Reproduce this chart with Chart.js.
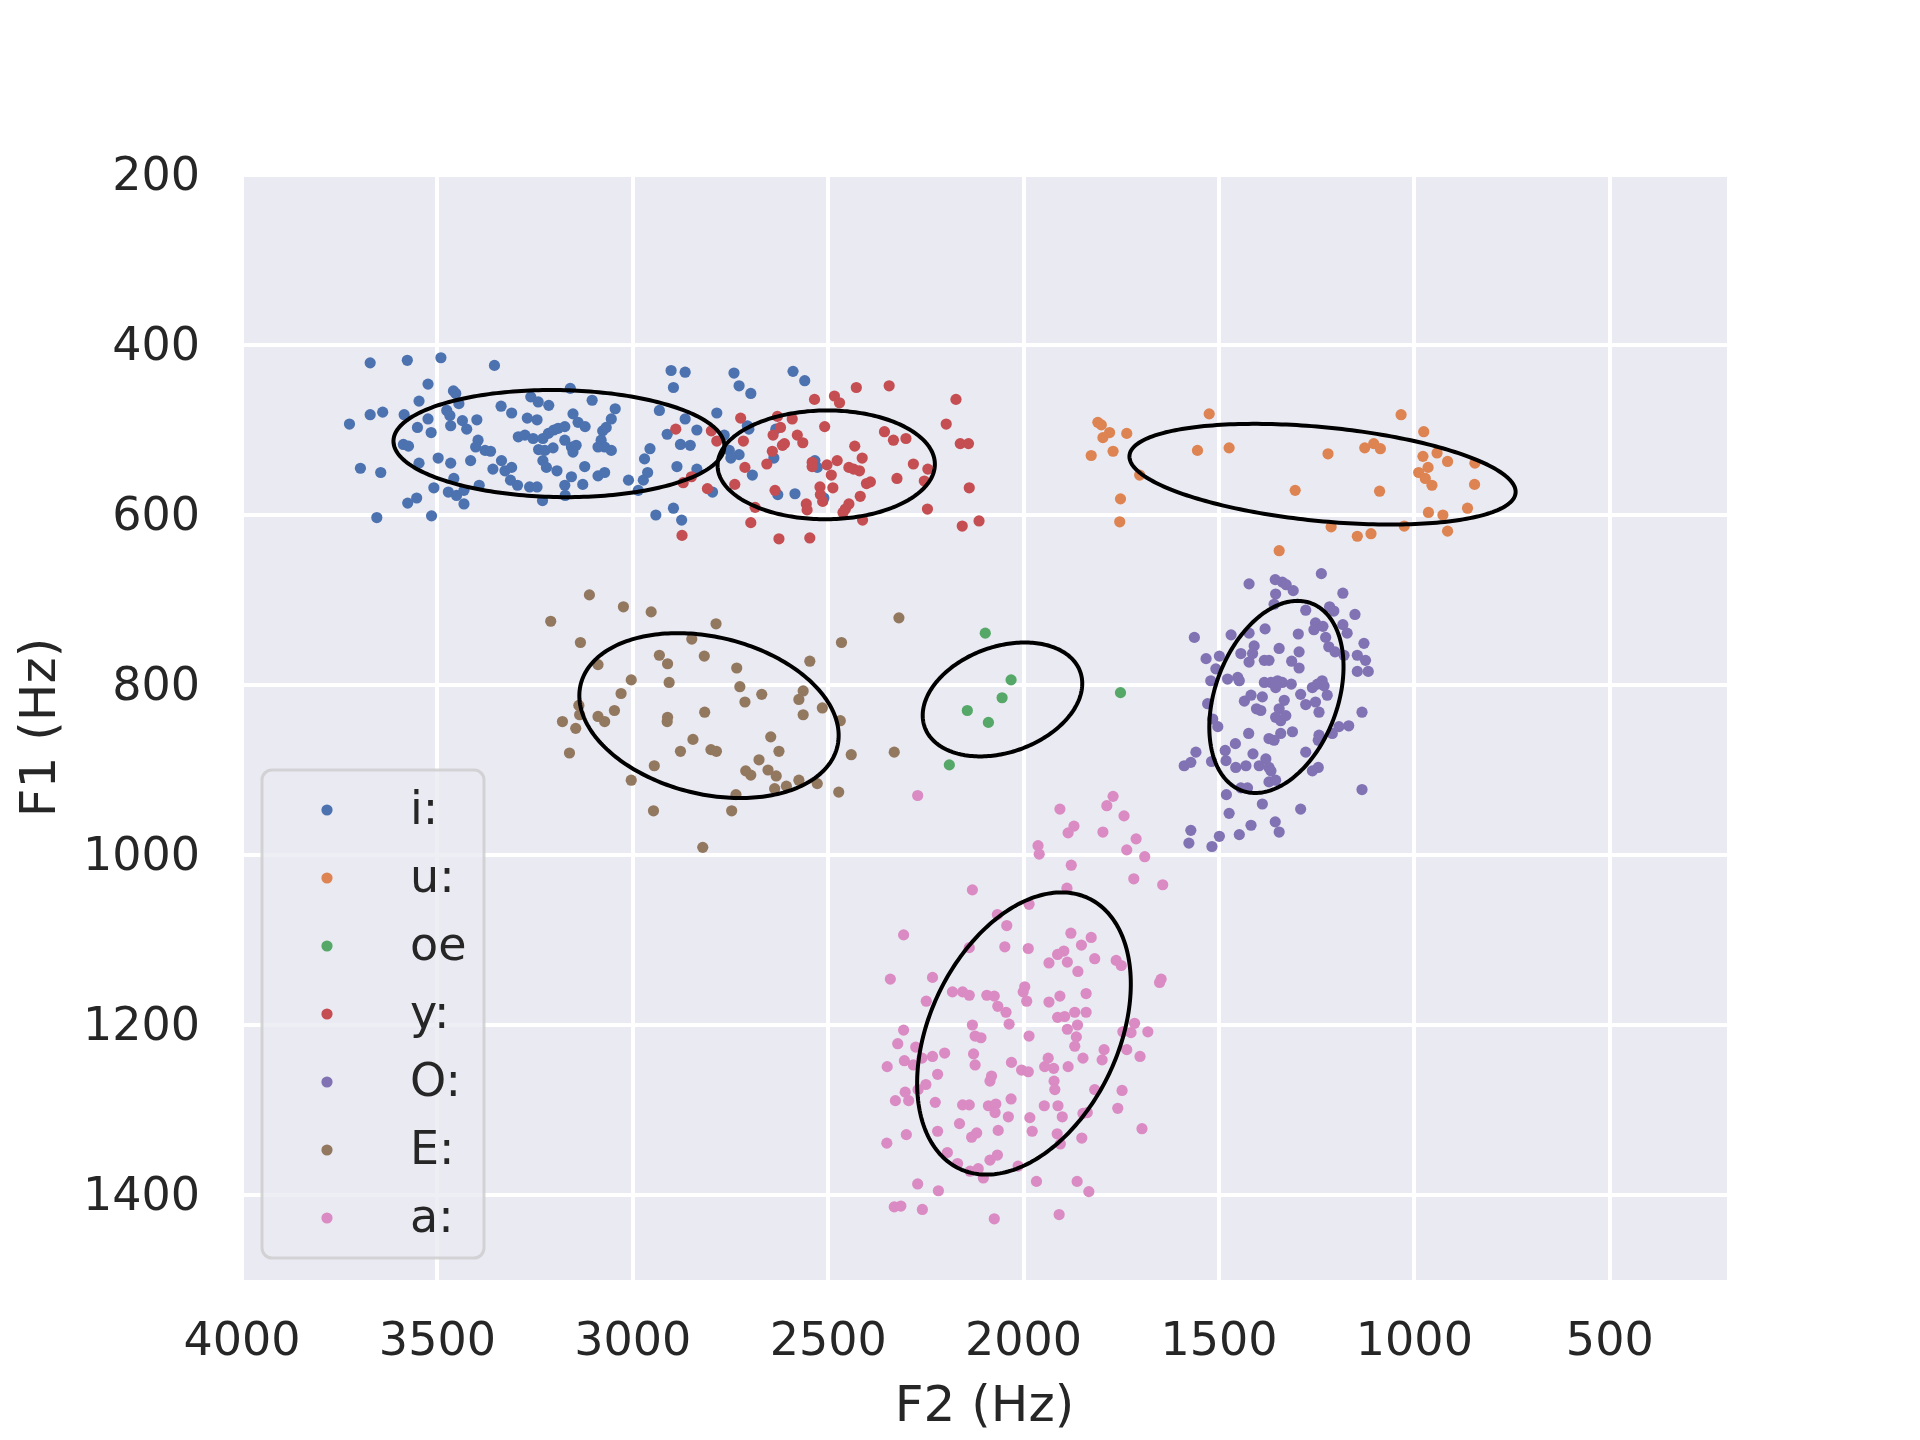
<!DOCTYPE html>
<html>
<head>
<meta charset="utf-8">
<script src="https://cdn.jsdelivr.net/npm/chart.js@4.4.1/dist/chart.umd.min.js"></script>
<style>
    html, body { margin: 0; padding: 0; background: #fff; }
    #vowelChart { display: block; }
</style>
</head>
<body>
<canvas id="vowelChart" width="1920" height="1440"></canvas>
<script>
'use strict';

// labels and colours, same order as the legend
const vowelLabels = ['i:', 'u:', 'oe', 'y:', 'O:', 'E:', 'a:'];
const vowelColors = ['#4c72b0', '#dd8452', '#55a868', '#c44e52', '#8172b3', '#937860', '#da8bc3'];

const xTicks = [4000, 3500, 3000, 2500, 2000, 1500, 1000, 500];
const yTicks = [200, 400, 600, 800, 1000, 1200, 1400];

// [F2, F1] in Hz
const vowelI = [
    [3672,421],[3577,418],[3491,415],[3354,424],[3524,446],[3160,451],
    [3725,493],[3672,482],[3640,479],[3585,482],[3547,466],[3459,454],[3453,457],[3697,545],[3645,550],
    [3655,603],[3515,601],[3576,586],[3553,580],[3509,568],
    [3524,487],[3516,503],[3551,497],[3587,517],[3574,519],[3547,539],[3498,533],[3466,539],[3476,477],
    [3468,483],[3445,469],[3466,495],[3436,489],[3425,499],[3399,488],[3415,536],[3396,512],[3402,520],
    [3378,524],[3364,525],[3458,557],[3472,573],[3451,577],[3432,571],[3432,587],[3393,565],
    [3337,472],[3310,480],[3261,461],[3242,467],[3215,471],[3270,486],[3245,488],[3293,508],[3276,506],
    [3255,510],[3230,510],[3216,504],[3202,500],[3191,498],[3174,496],[3225,524],[3204,521],[3241,523],
    [3174,512],[3153,481],[3140,491],[3122,496],[3157,520],[3145,518],[3153,526],[3358,546],[3336,536],
    [3327,548],[3310,544],[3230,536],[3221,544],[3194,548],[3313,559],[3295,565],[3264,567],[3245,567],
    [3174,565],[3157,555],[3123,543],[3128,564],[3089,554],[3072,550],[3173,577],[3231,583],[3104,465],
    [3045,475],[3055,487],[3077,501],[3068,497],[3081,512],[3072,520],[3089,520],[3055,524],
    [3011,559],[2986,571],[2973,559],[2962,550],[2970,534],[2956,522],[2932,477],[2941,600],
    [2902,430],[2866,432],[2741,433],[2728,448],[2698,457],[2896,450],[2590,431],[2560,442],
    [2785,480],[2866,487],[2912,505],[2836,500],[2878,517],[2853,518],[2766,506],[2707,495],[2703,499],
    [2753,524],[2728,529],[2749,533],[2887,543],[2836,546],[2694,553],[2639,533],[2634,499],[2534,536],
    [2528,544],[2796,573],[2629,576],[2585,575],[2511,580],[2896,592],[2875,606]
];

const vowelU = [
    [1810,491],[1801,494],[1780,503],[1797,509],[1736,504],[1827,530],[1771,525],[1703,553],[1752,581],
    [1754,608],[1525,481],[1555,524],[1474,521],[1221,528],[1305,571],[1127,521],[1104,516],[1087,522],
    [1089,572],[1034,482],[976,502],[978,531],[942,527],[915,537],[845,539],[965,544],[989,550],
    [972,557],[955,565],[846,564],[964,597],[927,600],[864,592],[1213,614],[1146,625],[1111,622],
    [1026,613],[915,619],[1346,642]
];

const vowelOE = [
    [2098,739],[2032,794],[2055,815],[2144,830],[2090,844],[2190,894],[1752,809]
];

const vowelY = [
    [2428,450],[2344,448],[2535,464],[2484,460],[2471,468],[2173,464],[2198,493],[2890,499],[2799,501],
    [2785,513],[2724,486],[2630,484],[2592,487],[2509,496],[2622,497],[2641,506],[2579,506],[2565,515],
    [2617,518],[2612,516],[2643,525],[2717,513],[2657,540],[2713,544],[2739,564],[2809,569],[2871,562],
    [2850,555],[2636,571],[2541,538],[2541,543],[2503,541],[2477,536],[2492,553],[2488,568],[2521,567],
    [2520,576],[2514,584],[2556,587],[2554,594],[2432,519],[2413,533],[2447,544],[2435,546],[2420,548],
    [2402,563],[2392,561],[2418,578],[2447,587],[2456,593],[2462,597],[2356,502],[2333,512],[2301,510],
    [2282,540],[2245,546],[2254,560],[2324,557],[2162,516],[2141,516],[2139,568],[2246,593],[2157,613],
    [2114,607],[2412,606],[2687,591],[2698,609],[2874,624],[2626,628],[2547,627]
];

const vowelO = [
    [1238,669],[1423,681],[1356,676],[1338,679],[1328,682],[1310,689],[1355,693],[1359,705],[1183,692],
    [1278,712],[1217,708],[1206,713],[1152,717],[1253,727],[1234,731],[1183,729],[1172,739],[1257,735],
    [1227,744],[1219,755],[1203,761],[1180,765],[1129,751],[1146,765],[1125,771],[1146,784],[1118,784],
    [1297,740],[1382,734],[1346,757],[1295,761],[1314,772],[1295,780],[1563,744],[1469,741],[1423,739],
    [1410,754],[1414,763],[1444,763],[1423,773],[1384,771],[1372,771],[1533,769],[1499,766],[1508,781],
    [1478,793],[1452,791],[1448,795],[1521,795],[1384,797],[1367,797],[1350,795],[1338,797],[1315,799],
    [1355,803],[1291,811],[1278,823],[1261,803],[1248,799],[1236,795],[1231,801],[1223,812],[1253,820],
    [1244,832],[1435,819],[1418,812],[1389,814],[1404,828],[1393,830],[1346,828],[1333,818],[1355,838],
    [1342,842],[1329,836],[1529,822],[1516,840],[1503,849],[1134,832],[1168,848],[1193,849],[1210,857],
    [1244,859],[1246,865],[1312,855],[1342,857],[1372,863],[1359,865],[1424,857],[1458,869],[1484,877],
    [1482,889],[1559,879],[1589,895],[1572,891],[1519,890],[1413,881],[1397,895],[1380,887],[1372,897],
    [1367,901],[1431,895],[1457,897],[1278,879],[1261,901],[1246,897],[1372,914],[1355,912],[1444,921],
    [1427,921],[1481,929],[1389,940],[1474,951],[1291,946],[1134,923],[1418,965],[1356,961],[1346,973],
    [1572,971],[1577,986],[1499,978],[1518,990],[1448,976]
];

const vowelE = [
    [3111,694],[3024,708],[2953,714],[3210,725],[3134,750],[2787,728],[2849,746],[2932,765],[2911,775],
    [2817,766],[3089,776],[3004,794],[2907,797],[3030,810],[2734,780],[2726,802],[2713,820],[2670,811],
    [2547,772],[2466,750],[2564,807],[2575,817],[2515,827],[2564,835],[2469,842],[3138,824],[3136,835],
    [3180,843],[3146,851],[3089,837],[3072,843],[3047,830],[2911,838],[2912,843],[2816,832],[2846,864],
    [2878,878],[2800,876],[2786,878],[2647,861],[2626,878],[2677,888],[2711,901],[2698,906],[2654,900],
    [2633,907],[2637,922],[2607,919],[2575,912],[2528,916],[2441,882],[2473,926],[2736,929],[2747,948],
    [3162,880],[2945,895],[3004,912],[2947,948],[2821,991],[2319,721],[2331,879]
];

const vowelA = [
    [2271,930],[1907,946],[1771,931],[1787,942],[1743,954],[1871,966],[1886,974],[1797,973],[1963,989],
    [1960,999],[1712,981],[1736,994],[1690,1002],[1878,1012],[1718,1028],[1644,1035],[2131,1041],
    [1889,1039],[1986,1058],[2067,1070],[2043,1083],[2307,1094],[1879,1092],[1827,1097],[1852,1106],
    [2139,1109],[2048,1108],[1988,1110],[1897,1113],[1913,1117],[1935,1127],[1888,1126],[1818,1122],
    [1861,1137],[1763,1124],[1750,1130],[2341,1146],[2233,1144],[1648,1146],[1652,1150],[2249,1172],
    [2182,1161],[2156,1161],[2139,1165],[2094,1165],[2075,1166],[2066,1178],[2045,1185],[2037,1199],
    [1997,1155],[2001,1161],[1992,1172],[1935,1173],[1907,1166],[1840,1163],[1913,1191],[1895,1190],
    [1869,1185],[1840,1185],[1862,1200],[1888,1205],[1865,1214],[1869,1225],[2131,1200],[2124,1213],
    [2109,1215],[1986,1213],[2307,1206],[2322,1222],[2276,1226],[2260,1239],[2233,1237],[2202,1233],
    [2349,1249],[2305,1242],[2282,1247],[2128,1234],[2124,1247],[2031,1244],[2005,1253],[1988,1255],
    [1946,1249],[1937,1239],[1923,1251],[1886,1249],[1848,1239],[1794,1229],[1799,1241],[1746,1208],
    [1725,1209],[1716,1198],[1682,1208],[1736,1229],[1702,1237],[2220,1258],[2250,1270],[2082,1260],
    [2086,1266],[1922,1266],[1920,1276],[1818,1276],[1748,1277],[2303,1279],[2294,1289],[2328,1289],
    [2270,1276],[2226,1291],[2156,1294],[2139,1294],[2090,1295],[2071,1293],[2073,1303],[2032,1287],
    [1947,1295],[1912,1295],[1901,1308],[1984,1309],[2039,1308],[1759,1298],[1848,1304],[1837,1303],
    [2164,1316],[2220,1325],[2300,1329],[2350,1339],[2133,1332],[2120,1327],[2065,1324],[1978,1325],
    [1914,1328],[1906,1340],[1851,1333],[1697,1322],[2195,1350],[2169,1363],[2086,1359],[2067,1353],
    [2137,1372],[2116,1369],[2103,1380],[2014,1366],[1967,1384],[1863,1384],[1833,1396],[2271,1387],
    [2218,1395],[2331,1414],[2314,1413],[2259,1417],[2075,1428],[1909,1423]
];

const vowelPoints = [vowelI, vowelU, vowelOE, vowelY, vowelO, vowelE, vowelA];

// confidence ellipses: centre and two conjugate half-axes, in Hz
const ellipseCenters = [[3189,516], [1235,552], [2054,817], [2505,541], [1353,814], [2805,836], [1999,1210]];
const ellipseAxisU = [[19,-63], [-494,22], [-57,-67], [-3,-64], [-54,-113], [80,-97], [-96,-166]];
const ellipseAxisV = [[-423,0], [11,55], [-196,0], [-278,0], [-163,0], [-322,0], [-256,0]];


const textColor = '#262626';
const fontFamily = "'DejaVu Sans', sans-serif";

Chart.defaults.font.family = fontFamily;
Chart.defaults.color = textColor;

const plotBackground = {
    id: 'plotBackground',
    beforeDraw(chart) {
        const {ctx, chartArea: a} = chart;
        ctx.save();
        ctx.fillStyle = '#eaeaf2';
        ctx.fillRect(a.left, a.top, a.right - a.left, a.bottom - a.top);
        ctx.restore();
    }
};

const ellipseLayer = {
    id: 'ellipseLayer',
    afterDatasetsDraw(chart) {
        const {ctx, scales: {x, y}} = chart;
        ctx.save();
        ctx.strokeStyle = '#000';
        ctx.lineWidth = 4;
        ellipseCenters.forEach((c, i) => {
            const u = ellipseAxisU[i];
            const v = ellipseAxisV[i];
            ctx.beginPath();
            for (let k = 0; k <= 240; k++) {
                const t = k / 240 * Math.PI * 2;
                const px = x.getPixelForValue(c[0] + u[0] * Math.cos(t) + v[0] * Math.sin(t));
                const py = y.getPixelForValue(c[1] + u[1] * Math.cos(t) + v[1] * Math.sin(t));
                if (k === 0) ctx.moveTo(px, py); else ctx.lineTo(px, py);
            }
            ctx.closePath();
            ctx.stroke();
        });
        ctx.restore();
    }
};

// legend box inside the plot, lower left
const boxLegend = {
    id: 'boxLegend',
    afterDraw(chart) {
        const ctx = chart.ctx;
        const left = 262, top = 770, w = 222, h = 488, r = 10;
        ctx.save();
        ctx.beginPath();
        ctx.roundRect(left, top, w, h, r);
        ctx.fillStyle = 'rgba(234,234,242,0.8)';
        ctx.fill();
        ctx.lineWidth = 3;
        ctx.strokeStyle = 'rgba(204,204,204,0.8)';
        ctx.stroke();
        ctx.font = '46px ' + fontFamily;
        ctx.textBaseline = 'middle';
        ctx.textAlign = 'left';
        chart.data.datasets.forEach((ds, i) => {
            const rowY = 810 + i * 68;
            ctx.beginPath();
            ctx.arc(327, rowY, 5.6, 0, Math.PI * 2);
            ctx.fillStyle = ds.backgroundColor;
            ctx.fill();
            ctx.fillStyle = textColor;
            ctx.fillText(ds.label, 410, rowY + 2);
        });
        ctx.restore();
    }
};

const datasets = vowelLabels.map((label, i) => ({
    label: label,
    data: vowelPoints[i].map(p => ({x: p[0], y: p[1]})),
    backgroundColor: vowelColors[i],
    borderWidth: 0,
    pointRadius: 5.6,
    pointHoverRadius: 5.6,
    order: vowelLabels.length - i
}));

const ctx = document.getElementById('vowelChart').getContext('2d');
const chart = new Chart(ctx, {
    type: 'scatter',
    data: {datasets: datasets},
    options: {
        responsive: false,
        animation: false,
        devicePixelRatio: 1,
        layout: {padding: {top: 175, right: 193, bottom: 0, left: 0}},
        plugins: {
            legend: {display: false},
            tooltip: {enabled: false}
        },
        scales: {
            x: {
                type: 'linear',
                reverse: true,
                min: 200,
                max: 4000,
                afterBuildTicks: s => { s.ticks = xTicks.map(v => ({value: v})); },
                afterFit: s => { s.height = 160; },
                grid: {color: '#ffffff', lineWidth: 4, drawTicks: false},
                border: {display: false},
                ticks: {
                    padding: 35,
                    font: {size: 46},
                    color: textColor,
                    maxRotation: 0,
                    callback: v => String(v)
                },
                title: {
                    display: true,
                    text: 'F2 (Hz)',
                    font: {size: 50},
                    color: textColor,
                    padding: {top: 0, bottom: 2}
                }
            },
            y: {
                type: 'linear',
                reverse: true,
                min: 200,
                max: 1500,
                afterBuildTicks: s => { s.ticks = yTicks.map(v => ({value: v})); },
                afterFit: s => { s.width = 242; },
                grid: {color: '#ffffff', lineWidth: 4, drawTicks: false},
                border: {display: false},
                ticks: {
                    padding: 42,
                    labelOffset: 3,
                    font: {size: 46},
                    color: textColor,
                    callback: v => String(v)
                },
                title: {
                    display: true,
                    text: 'F1 (Hz)',
                    font: {size: 50},
                    color: textColor,
                    padding: {top: 12, bottom: 0}
                }
            }
        }
    },
    plugins: [plotBackground, ellipseLayer, boxLegend]
});
</script>
</body>
</html>
